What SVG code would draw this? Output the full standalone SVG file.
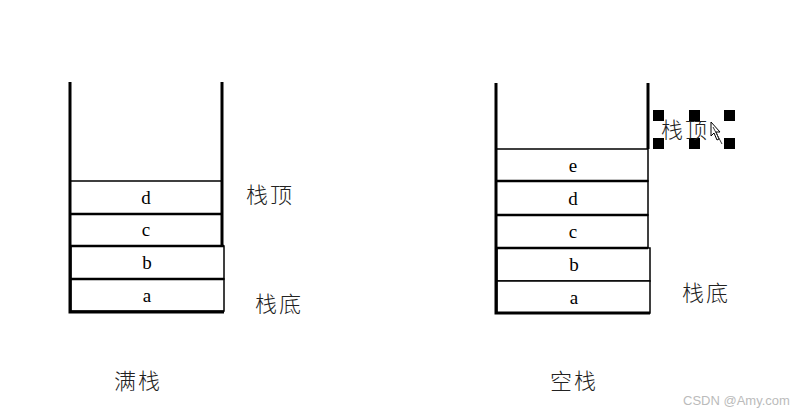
<svg xmlns="http://www.w3.org/2000/svg" width="809" height="416" viewBox="0 0 809 416">
<style>
.wall{stroke:#000;stroke-width:3;fill:none}
.box{fill:#fff;stroke:#000;stroke-width:1.5}
.sep{stroke:#000;stroke-width:2.5}
.let{font-family:"Liberation Serif",serif;font-size:19px;text-anchor:middle;fill:#000}
.cjk{font-family:"Noto Sans CJK SC",sans-serif;font-weight:300;font-size:22px;letter-spacing:2px;fill:#222}
.h{fill:#000}
</style>
<rect width="809" height="416" fill="#fff"/>
<g id="full-stack">
<rect class="box" x="70" y="181" width="152" height="33"/>
<rect class="box" x="70" y="214" width="152" height="32"/>
<rect class="box" x="71" y="246" width="153" height="33"/>
<rect class="box" x="71" y="279" width="153" height="32"/>
<line class="sep" x1="70" y1="214" x2="222" y2="214"/>
<line class="sep" x1="70" y1="246" x2="224" y2="246"/>
<line class="sep" x1="70" y1="279" x2="224" y2="279"/>
<path class="wall" d="M70 82 V312 H224"/>
<line class="wall" x1="222" y1="82" x2="222" y2="246"/>
<text class="let" x="146" y="204">d</text>
<text class="let" x="146" y="236">c</text>
<text class="let" x="147" y="269">b</text>
<text class="let" x="147" y="302">a</text>
</g>
<g id="empty-stack">
<rect class="box" x="496" y="149" width="152" height="32"/>
<rect class="box" x="496" y="181" width="152" height="34"/>
<rect class="box" x="496" y="215" width="152" height="33"/>
<rect class="box" x="497" y="248" width="153" height="33"/>
<rect class="box" x="497" y="281" width="153" height="32"/>
<line class="sep" x1="496" y1="181" x2="648" y2="181"/>
<line class="sep" x1="496" y1="215" x2="648" y2="215"/>
<line class="sep" x1="496" y1="248" x2="648" y2="248"/>
<path class="wall" d="M496 83 V313 H650"/>
<line class="wall" x1="648" y1="83" x2="648" y2="149"/>
<text class="let" x="573" y="172">e</text>
<text class="let" x="573" y="205">d</text>
<text class="let" x="573" y="238">c</text>
<text class="let" x="574" y="271">b</text>
<text class="let" x="574" y="304">a</text>
</g>
<g id="labels">
<text class="cjk" x="246" y="203">栈顶</text>
<text class="cjk" x="255" y="312">栈底</text>
<text class="cjk" x="114" y="389">满栈</text>
<text class="cjk" x="682" y="301">栈底</text>
<text class="cjk" x="550" y="389">空栈</text>
</g>
<g id="selected-label">
<rect class="h" x="653" y="110" width="11" height="11"/>
<rect class="h" x="689" y="110" width="11" height="11"/>
<rect class="h" x="724" y="110" width="11" height="11"/>
<rect class="h" x="653" y="138" width="11" height="11"/>
<rect class="h" x="689" y="138" width="11" height="11"/>
<rect class="h" x="724" y="138" width="11" height="11"/>
<text class="cjk" x="661" y="138">栈顶</text>
<path d="M711 122 L711 136 L714 133 L717 140 L719 139 L716 132 L720 132 Z" fill="#fff" stroke="#000" stroke-width="1"/>
<line x1="713" y1="127" x2="722" y2="144" stroke="#333" stroke-width="1"/>
</g>
<text x="683" y="405" font-family="Liberation Sans,sans-serif" font-size="13" fill="#bbb">CSDN @Amy.com</text>
</svg>
